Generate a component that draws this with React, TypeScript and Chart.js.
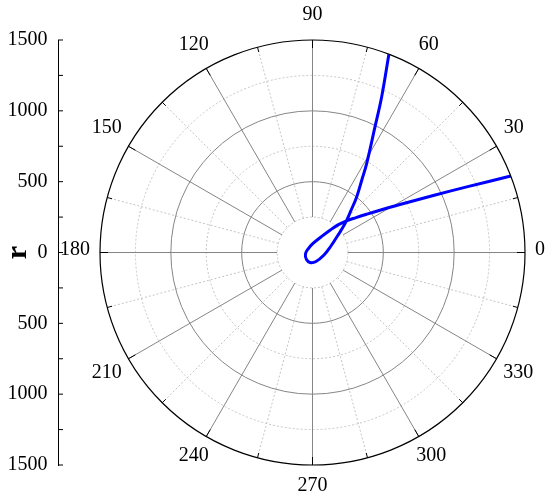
import React, { useEffect, useRef } from 'react';
import { Chart, registerables } from 'chart.js';

Chart.register(...registerables);

// Curve readings: polar angle (degrees) and radius r
const curveTheta = [21.08, 23.05, 25.26, 28.75, 32.07, 35.25, 38.74, 43.0, 47.27, 51.88, 61.26, 86.8, 142.1, 192.1, 229.4, 256.0, 291.3, 347.7, 379.4, 393.4, 399.2, 403.27, 407.17, 411.6, 415.78, 418.72, 423.58, 426.05, 428.93];
const curveR = [1500, 1183, 943, 704, 562, 468, 394, 328, 265, 200, 125, 64, 40, 51, 65, 73, 68, 83, 138, 211, 273, 331, 395, 503, 619, 737, 992, 1203, 1500];

// Radial axis
const rMax = 1500;
const rLabelTicks = [-1500, -1000, -500, 0, 500, 1000, 1500];
const rMinorTicks = [-1250, -750, -250, 250, 750, 1250];
const solidRings = [500, 1000];
const dottedRings = [250, 750, 1250];
const spokeStart = 250;

// Angular axis
const angleMajor = [0, 30, 60, 90, 120, 150, 180, 210, 240, 270, 300, 330];
const angleMinor = [15, 45, 75, 105, 135, 165, 195, 225, 255, 285, 315, 345];
const angleLabels = ['0', '30', '60', '90', '120', '150', '180', '210', '240', '270', '300', '330'];

const FONT = '"Liberation Serif", "Times New Roman", serif';

const polarPlugin = {
  id: 'polarGrid',
  beforeDatasetsDraw(chart: any) {
    const { ctx } = chart;
    const xs = chart.scales.x;
    const ys = chart.scales.y;
    const cx = xs.getPixelForValue(0);
    const cy = ys.getPixelForValue(0);
    const rp = (v: number) => cy - ys.getPixelForValue(v);
    const R = rp(rMax);
    const rad = (d: number) => (d * Math.PI) / 180;
    ctx.save();
    ctx.lineWidth = 1;
    ctx.strokeStyle = '#c4c4c4';
    ctx.setLineDash([2, 2]);
    dottedRings.forEach((v) => {
      ctx.beginPath();
      ctx.arc(cx, cy, rp(v), 0, Math.PI * 2);
      ctx.stroke();
    });
    angleMinor.forEach((a) => {
      const r0 = rp(spokeStart);
      ctx.beginPath();
      ctx.moveTo(cx + r0 * Math.cos(rad(a)), cy - r0 * Math.sin(rad(a)));
      ctx.lineTo(cx + R * Math.cos(rad(a)), cy - R * Math.sin(rad(a)));
      ctx.stroke();
    });
    ctx.setLineDash([]);
    ctx.strokeStyle = '#858585';
    solidRings.forEach((v) => {
      ctx.beginPath();
      ctx.arc(cx, cy, rp(v), 0, Math.PI * 2);
      ctx.stroke();
    });
    angleMajor.forEach((a) => {
      const r0 = rp(spokeStart);
      ctx.beginPath();
      ctx.moveTo(cx + r0 * Math.cos(rad(a)), cy - r0 * Math.sin(rad(a)));
      ctx.lineTo(cx + R * Math.cos(rad(a)), cy - R * Math.sin(rad(a)));
      ctx.stroke();
    });
    ctx.restore();
  },
  afterDatasetsDraw(chart: any) {
    const { ctx } = chart;
    const xs = chart.scales.x;
    const ys = chart.scales.y;
    const cx = xs.getPixelForValue(0);
    const cy = ys.getPixelForValue(0);
    const rp = (v: number) => cy - ys.getPixelForValue(v);
    const R = rp(rMax);
    const rad = (d: number) => (d * Math.PI) / 180;
    ctx.save();
    ctx.strokeStyle = '#000';
    ctx.lineWidth = 1.2;
    ctx.beginPath();
    ctx.arc(cx, cy, R, 0, Math.PI * 2);
    ctx.stroke();
    ctx.lineWidth = 1;
    const drawTick = (a: number, len: number) => {
      ctx.beginPath();
      ctx.moveTo(cx + R * Math.cos(rad(a)), cy - R * Math.sin(rad(a)));
      ctx.lineTo(cx + (R - len) * Math.cos(rad(a)), cy - (R - len) * Math.sin(rad(a)));
      ctx.stroke();
    };
    angleMajor.forEach((a) => drawTick(a, 8));
    angleMinor.forEach((a) => drawTick(a, 5));
    const ax = chart.chartArea.left;
    [...rLabelTicks, ...rMinorTicks].forEach((v) => {
      const y = ys.getPixelForValue(v);
      ctx.beginPath();
      ctx.moveTo(ax, y);
      ctx.lineTo(ax + 5, y);
      ctx.stroke();
    });
    ctx.fillStyle = '#000';
    ctx.font = `20px ${FONT}`;
    ctx.textAlign = 'center';
    ctx.textBaseline = 'middle';
    angleMajor.forEach((a, i) => {
      const t = angleLabels[i];
      const w = ctx.measureText(t).width;
      const c = Math.cos(rad(a));
      const s = Math.sin(rad(a));
      const px = cx + R * c + (10 + w / 2) * c;
      const py = cy - R * s - 23 * Math.sign(s) * Math.sqrt(Math.abs(s)) - 2.5;
      ctx.fillText(t, px, py);
    });
    ctx.font = `bold 30px ${FONT}`;
    ctx.translate(26, cy);
    ctx.rotate(-Math.PI / 2);
    ctx.textAlign = 'center';
    ctx.textBaseline = 'alphabetic';
    ctx.fillText('r', 0, 0);
    ctx.restore();
  },
};

export default function App() {
  const ref = useRef<HTMLCanvasElement | null>(null);
  useEffect(() => {
    if (!ref.current) return;
    const pts = curveTheta.map((t, i) => ({
      x: curveR[i] * Math.cos((t * Math.PI) / 180),
      y: curveR[i] * Math.sin((t * Math.PI) / 180),
    }));
    const W = 550;
    const H = 502;
    const top = 40;
    const bottom = 465;
    const left = 58;
    const cxPix = 312.5;
    const ppu = (bottom - top) / (2 * rMax);
    const chart = new Chart(ref.current, {
      type: 'scatter',
      data: {
        datasets: [
          {
            data: pts,
            showLine: true,
            borderColor: '#0000ff',
            borderWidth: 3,
            pointRadius: 0,
            tension: 0.4,
            fill: false,
          },
        ],
      },
      plugins: [polarPlugin],
      options: {
        animation: false,
        responsive: false,
        layout: { padding: { top, bottom: H - bottom, left: 0, right: 0 } },
        plugins: { legend: { display: false }, tooltip: { enabled: false } },
        scales: {
          x: {
            type: 'linear',
            display: false,
            min: -(cxPix - left) / ppu,
            max: (W - cxPix) / ppu,
          },
          y: {
            type: 'linear',
            min: -rMax,
            max: rMax,
            afterFit: (s: any) => {
              s.width = left;
            },
            afterBuildTicks: (s: any) => {
              s.ticks = rLabelTicks.map((v) => ({ value: v }));
            },
            grid: { display: false, drawTicks: false },
            border: { display: true, color: '#000', width: 1 },
            ticks: {
              padding: 10.5,
              color: '#000',
              font: { family: FONT, size: 20 },
              callback: (v: any) => String(Math.abs(Number(v))),
            },
          },
        },
      },
    });
    return () => chart.destroy();
  }, []);
  return (
    <div style={{ position: 'absolute', left: 0, top: 0, width: 550, height: 502 }}>
      <canvas ref={ref} width={550} height={502} style={{ display: 'block', width: 550, height: 502 }} />
    </div>
  );
}
